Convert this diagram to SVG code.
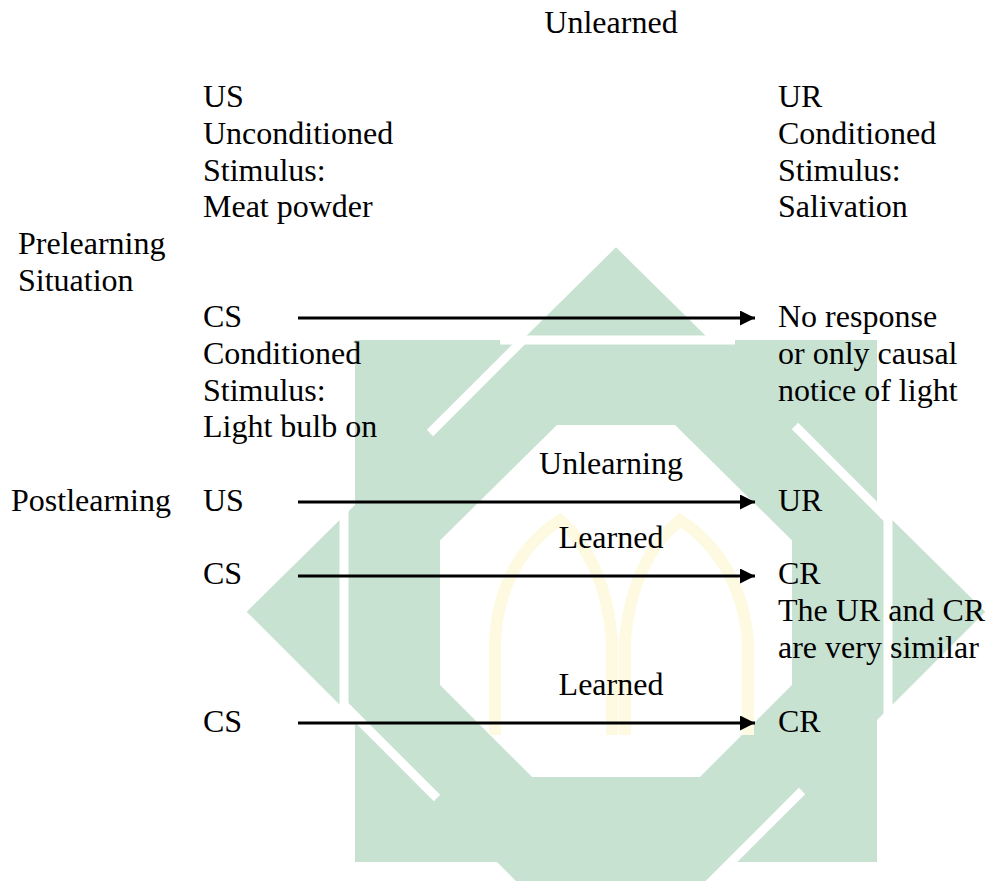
<svg xmlns="http://www.w3.org/2000/svg" width="989" height="881" viewBox="0 0 989 881">
<defs>
<style>
text{font-family:"Liberation Serif","Times New Roman",serif;font-size:32px;fill:#000}
.c{text-anchor:middle}
.wm{fill:none;stroke:#c8e2d2;stroke-width:85;stroke-linejoin:miter}
.gap{stroke:#fff;stroke-width:9;fill:none}
.mosque{fill:none;stroke:#fefae2;stroke-width:12}
.arrow{stroke:#000;stroke-width:3;fill:none;marker-end:url(#ah)}
</style>
<marker id="ah" markerUnits="userSpaceOnUse" markerWidth="16" markerHeight="16" refX="15" refY="7.5" orient="auto">
<path d="M0,0 L15,7.5 L0,15 Z" fill="#000"/>
</marker>
</defs>
<rect width="989" height="881" fill="#fff"/>
<g id="watermark">
<rect class="wm" x="397.5" y="382.5" width="437" height="437"/>
<polygon class="wm" points="616,307 925,612 616,921 307,612"/>
<line class="gap" x1="500" y1="340" x2="735" y2="340"/>
<line class="gap" x1="525" y1="338" x2="430" y2="433"/>
<line class="gap" x1="888" y1="500" x2="888" y2="725"/>
<line class="gap" x1="890" y1="521" x2="795" y2="426"/>
<line class="gap" x1="707" y1="886" x2="802" y2="791"/>
<line class="gap" x1="344" y1="500" x2="344" y2="725"/>
<line class="gap" x1="342" y1="703" x2="437" y2="798"/>
<path class="mosque" d="M495,735 L495,640 Q500,560 560,520 Q605,560 612,640 L612,735 M625,735 L625,640 Q632,560 680,520 Q740,560 748,640 L748,735"/>
</g>
<g id="unlearned"><text class="c" x="611" y="33">Unlearned</text></g>
<g id="us-top">
<text x="203" y="107">US</text>
<text x="203" y="144">Unconditioned</text>
<text x="203" y="180.5">Stimulus:</text>
<text x="203" y="217">Meat powder</text>
</g>
<g id="ur-top">
<text x="778" y="107">UR</text>
<text x="778" y="144">Conditioned</text>
<text x="778" y="180.5">Stimulus:</text>
<text x="778" y="217">Salivation</text>
</g>
<g id="prelearning">
<text x="18" y="254">Prelearning</text>
<text x="18" y="290.5">Situation</text>
</g>
<g id="cs-pre">
<text x="203" y="327">CS</text>
<text x="203" y="364">Conditioned</text>
<text x="203" y="400.5">Stimulus:</text>
<text x="203" y="437">Light bulb on</text>
</g>
<g id="no-response">
<text x="778" y="327">No response</text>
<text x="778" y="364">or only causal</text>
<text x="778" y="400.5">notice of light</text>
</g>
<g id="unlearning-label"><text class="c" x="611" y="474">Unlearning</text></g>
<g id="postlearning"><text x="11" y="511">Postlearning</text></g>
<g id="us-post"><text x="203" y="511">US</text></g>
<g id="ur-post"><text x="778" y="511">UR</text></g>
<g id="learned-label-1"><text class="c" x="611" y="548">Learned</text></g>
<g id="cs-post-1"><text x="203" y="584">CS</text></g>
<g id="cr-post-1">
<text x="778" y="584">CR</text>
<text x="778" y="621">The UR and CR</text>
<text x="778" y="658">are very similar</text>
</g>
<g id="learned-label-2"><text class="c" x="611" y="695">Learned</text></g>
<g id="cs-post-2"><text x="203" y="732">CS</text></g>
<g id="cr-post-2"><text x="778" y="732">CR</text></g>
<g id="connectors">
<line class="arrow" x1="298" y1="318" x2="755" y2="318"/>
<line class="arrow" x1="298" y1="502" x2="755" y2="502"/>
<line class="arrow" x1="298" y1="576" x2="755" y2="576"/>
<line class="arrow" x1="298" y1="723" x2="755" y2="723"/>
</g>
</svg>
